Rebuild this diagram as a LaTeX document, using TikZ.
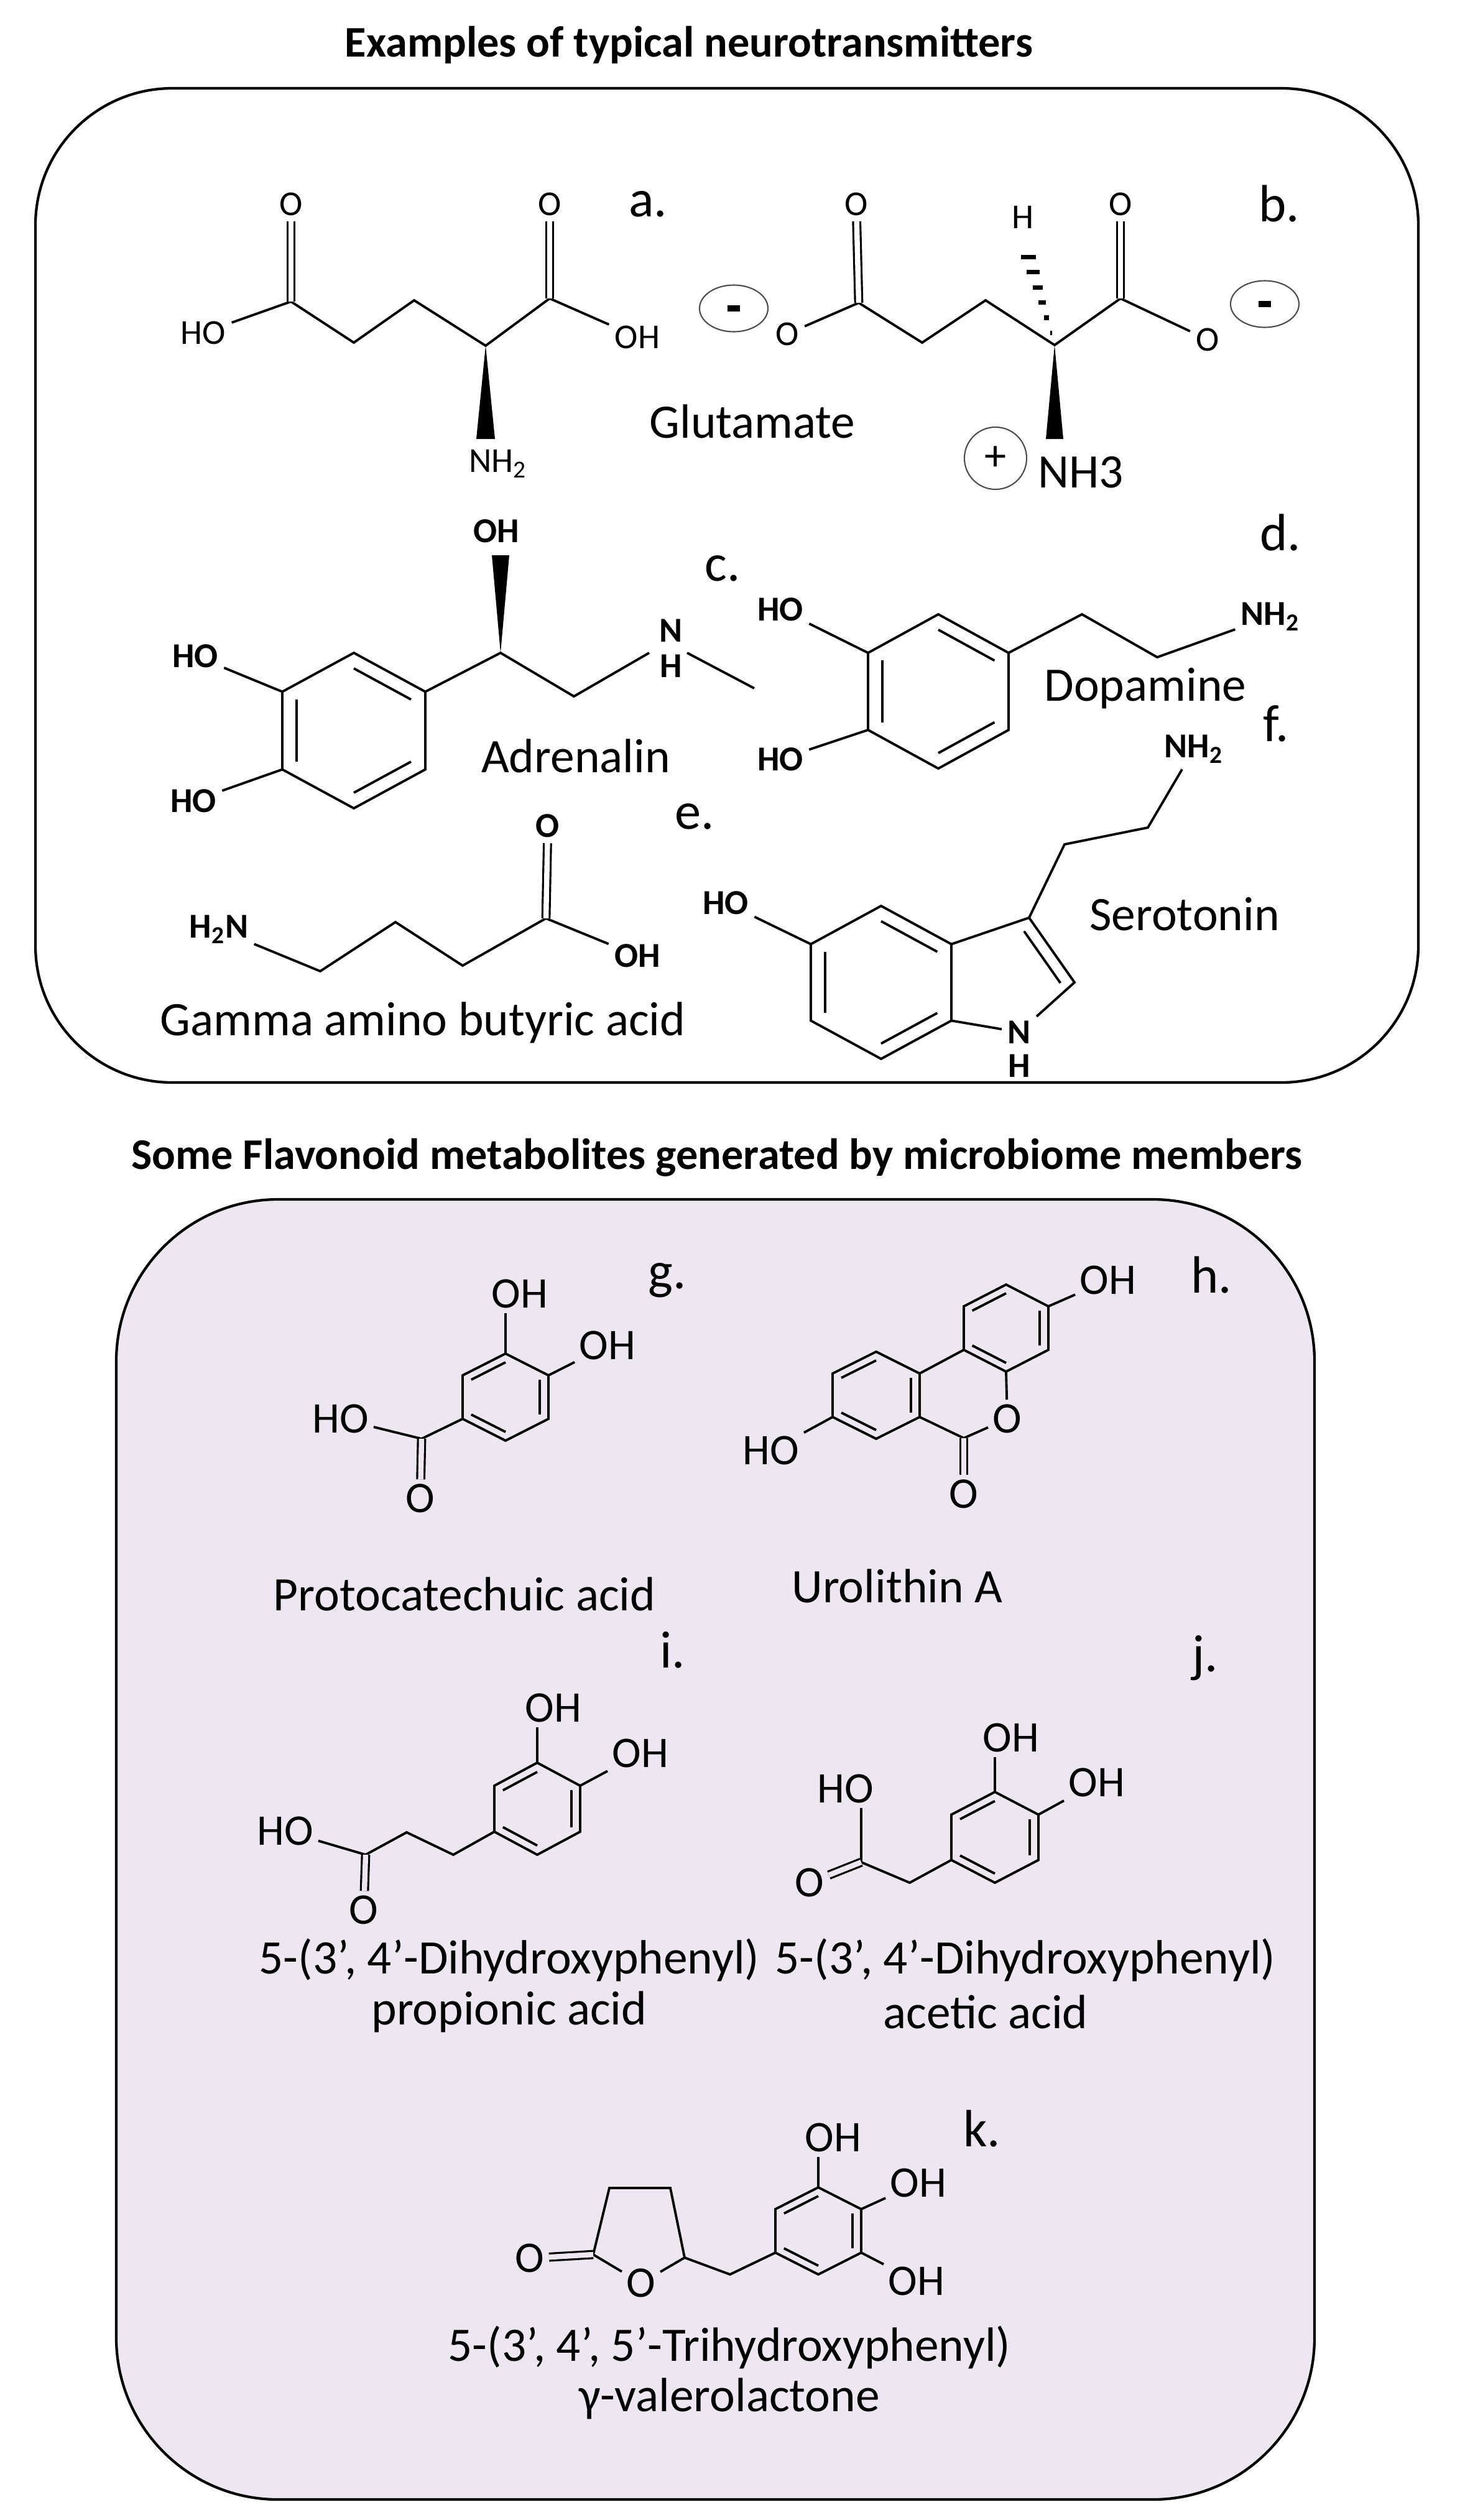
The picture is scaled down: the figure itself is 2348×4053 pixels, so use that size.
\documentclass[tikz,border=0pt]{standalone}
\usepackage{fontspec}
\setmainfont{Carlito}
\usetikzlibrary{calc,shapes.geometric}

\definecolor{boxlilac}{RGB}{236,231,240}

% benzene ring: name, cx, cy, half width, radius
\newcommand\ring[5]{%
  \coordinate (#1C) at (#2,#3);
  \coordinate (#11) at (#2,{#3-#5});
  \coordinate (#12) at ({#2+#4},{#3-#5/2});
  \coordinate (#13) at ({#2+#4},{#3+#5/2});
  \coordinate (#14) at (#2,{#3+#5});
  \coordinate (#15) at ({#2-#4},{#3+#5/2});
  \coordinate (#16) at ({#2-#4},{#3-#5/2});
  \draw[bond] (#11) -- (#12) -- (#13) -- (#14) -- (#15) -- (#16) -- cycle;}
% inner line of a ring double bond
\newcommand\inb[3]{\draw[bond] ($(#1)!0.2!(#3)$) -- ($(#2)!0.2!(#3)$);}

\tikzset{
  bond/.style={line width=1.1pt},
  dbond/.style={double=white,double distance=2.4pt,line width=0.9pt},
  dbondl/.style={dbond,double=boxlilac},
  atom/.style={inner sep=2.5pt,font=\fontsize{16}{16}\selectfont},
  batom/.style={inner sep=2.5pt,font=\fontsize{16}{16}\selectfont\bfseries},
  latom/.style={inner sep=2pt,font=\fontsize{20}{20}\selectfont},
  molname/.style={font=\fontsize{22}{24}\selectfont},
  tag/.style={font=\fontsize{24}{24}\selectfont},
  paneltitle/.style={font=\fontsize{20}{24}\selectfont\bfseries},
  charge/.style={draw=black!70,line width=0.6pt,inner sep=0pt},
}

\begin{document}
\begin{tikzpicture}[x=0.01cm,y=-0.01cm]
\useasboundingbox (0,0) rectangle (2348,4053);

% panels
\node[paneltitle] (tNeuro) at (1108,72) {Examples of typical neurotransmitters};
\draw[line width=1.2pt,rounded corners=2.2cm] (57,142) rectangle (2281,1741);
\node[paneltitle] (tFlavo) at (1153,1862) {Some Flavonoid metabolites generated by microbiome members};
\draw[line width=1.2pt,fill=boxlilac,rounded corners=2.6cm] (187,1929) rectangle (2114,4020);

% a. glutamate
\coordinate (aC1) at (468,485); \coordinate (aC2) at (569,551); \coordinate (aC3) at (666,483);
\coordinate (aCa) at (781,556); \coordinate (aC5) at (884,480);
\node[atom] (aO1) at (468,328) {O};
\node[atom] (aHO) at (327,535) {HO};
\node[atom] (aO2) at (884,328) {O};
\node[atom] (aOH) at (1025,542) {OH};
\node[atom] (aN) at (801,746) {NH\textsubscript{2}};
\draw[bond] (aHO) -- (aC1) -- (aC2) -- (aC3) -- (aCa) -- (aC5) -- (aOH);
\draw[dbond] (aC1) -- (aO1); \draw[dbond] (aC5) -- (aO2);
\fill (aCa) -- (766,706) -- (796,706) -- cycle;
\node[tag] (aTag) at (1042,328) {a.};
\node[molname] (aName) at (1210,678) {Glutamate};

% b. glutamate ion
\coordinate (bC1) at (1381,487); \coordinate (bC2) at (1483,551); \coordinate (bC3) at (1585,483);
\coordinate (bCa) at (1696,555); \coordinate (bC5) at (1802,480); \coordinate (bHt) at (1648,392);
\node[atom] (bO1) at (1266,537) {O};
\node[atom] (bO2) at (1377,328) {O};
\node[atom] (bH) at (1645,349) {H};
\node[atom] (bO3) at (1802,328) {O};
\node[atom] (bO4) at (1942,546) {O};
\draw[bond] (bO1) -- (bC1) -- (bC2) -- (bC3) -- (bCa) -- (bC5) -- (bO4);
\draw[dbond] (bC1) -- (bO2); \draw[dbond] (bC5) -- (bO3);
\fill (bCa) -- (1682,706) -- (1710,706) -- cycle;
\foreach \t in {0.12,0.27,0.42,0.57,0.72,0.87}
  \draw[line width=2pt] ($(bCa)!\t!(bHt)$) ++(-14*\t,0) -- ++(28*\t,0);
\node[charge,ellipse,minimum width=1.1cm,minimum height=0.75cm] (bM1) at (1180,496) {};
\node[charge,ellipse,minimum width=1.1cm,minimum height=0.75cm] (bM2) at (2034,489) {};
\draw[line width=2.8pt] ($(bM1.center)+(-10,0)$) -- ($(bM1.center)+(10,0)$);
\draw[line width=2.8pt] ($(bM2.center)+(-10,0)$) -- ($(bM2.center)+(10,0)$);
\node[charge,circle,minimum size=1.0cm,font=\fontsize{20}{20}\selectfont] (bP) at (1601,737) {+};
\node[molname] (bN) at (1738,760) {NH3};
\node[tag] (bTag) at (2057,328) {b.};

% c. adrenalin
\ring{cR}{569}{1175}{115}{125}
\inb{cR1}{cR2}{cRC} \inb{cR5}{cR6}{cRC} \inb{cR3}{cR4}{cRC}
\coordinate (cCH) at (805,1050); \coordinate (cCH2) at (923,1120);
\coordinate (cNl) at (1044,1050); \coordinate (cNr) at (1105,1050); \coordinate (cMe) at (1213,1107);
\node[batom] (cN) at (1079,1014) {N};
\node[batom] (cNH) at (1079,1071) {H};
\node[batom] (cOH) at (798,854) {OH};
\node[batom] (cHO1) at (314,1055) {HO};
\node[batom] (cHO2) at (311,1288) {HO};
\draw[bond] (cR2) -- (cCH) -- (cCH2) -- (cNl);
\draw[bond] (cNr) -- (cMe);
\fill (cCH) -- (791,893) -- (819,893) -- cycle;
\draw[bond] (cR6) -- (cHO1); \draw[bond] (cR5) -- (cHO2);
\node[tag] (cTag) at (1162,914) {c.};
\node[molname] (cName) at (926,1216) {Adrenalin};

% d. dopamine
\ring{dR}{1509}{1112}{113}{124}
\inb{dR1}{dR2}{dRC} \inb{dR5}{dR6}{dRC} \inb{dR3}{dR4}{dRC}
\coordinate (dC1) at (1740,988); \coordinate (dC2) at (1861,1057);
\node[batom] (dN) at (2043,992) {NH\textsubscript{2}};
\node[batom] (dHO1) at (1255,980) {HO};
\node[batom] (dHO2) at (1255,1221) {HO};
\draw[bond] (dR2) -- (dC1) -- (dC2) -- (dN);
\draw[bond] (dR6) -- (dHO1); \draw[bond] (dR5) -- (dHO2);
\node[tag] (dTag) at (2059,857) {d.};
\node[molname] (dName) at (1842,1107) {Dopamine};

% e. GABA
\coordinate (eC1) at (515,1562); \coordinate (eC2) at (636,1483);
\coordinate (eC3) at (744,1553); \coordinate (eC) at (878,1477);
\node[batom] (eN) at (352,1495) {H\textsubscript{2}N};
\node[batom] (eO) at (881,1328) {O};
\node[batom] (eOH) at (1025,1537) {OH};
\draw[bond] (eN) -- (eC1) -- (eC2) -- (eC3) -- (eC) -- (eOH);
\draw[dbond] (eC) -- (eO);
\node[tag] (eTag) at (1117,1313) {e.};
\node[molname] (eName) at (680,1645) {Gamma amino butyric acid};

% f. serotonin
\ring{sR}{1417}{1580}{113}{123}
\inb{sR1}{sR2}{sRC} \inb{sR5}{sR6}{sRC} \inb{sR3}{sR4}{sRC}
\coordinate (sC3) at (1655,1476); \coordinate (sC2) at (1728,1580); \coordinate (sPc) at (1615,1585);
\coordinate (sCh1) at (1712,1358); \coordinate (sCh2) at (1846,1331);
\node[batom] (sN) at (1639,1660) {N};
\node[batom] (sH) at (1639,1714) {H};
\node[batom] (sNH2) at (1920,1205) {NH\textsubscript{2}};
\node[batom] (sHO) at (1167,1452) {HO};
\draw[bond] (sR2) -- (sC3) -- (sC2) -- (sN);
\draw[bond] (sR3) -- (sN);
\inb{sC3}{sC2}{sPc}
\draw[bond] (sC3) -- (sCh1) -- (sCh2) -- (sNH2);
\draw[bond] (sR6) -- (sHO);
\node[tag] (fTag) at (2052,1164) {f.};
\node[molname] (sName) at (1905,1470) {Serotonin};

% g. protocatechuic acid
\ring{gR}{813}{2247}{69}{70}
\inb{gR1}{gR6}{gRC} \inb{gR2}{gR3}{gRC} \inb{gR4}{gR5}{gRC}
\coordinate (gC) at (678,2314);
\node[latom] (gOH1) at (836,2081) {OH};
\node[latom] (gOH2) at (977,2164) {OH};
\node[latom] (gHO) at (548,2282) {HO};
\node[latom] (gO) at (676,2410) {O};
\draw[bond] (gR1) -- (gR1 |- gOH1.south);
\draw[bond] (gR2) -- (gOH2);
\draw[bond] (gR5) -- (gC) -- (gHO);
\draw[dbondl] (gC) -- (gO);
\node[tag] (gTag) at (1073,2059) {g.};
\node[molname] (gName) at (747,2564) {Protocatechuic acid};

% h. urolithin A
\ring{hA}{1409}{2244}{70}{70}
\ring{hB}{1618}{2136}{68}{70}
\inb{hA1}{hA6}{hAC} \inb{hA2}{hA3}{hAC} \inb{hA4}{hA5}{hAC}
\inb{hB1}{hB6}{hBC} \inb{hB2}{hB3}{hBC} \inb{hB4}{hB5}{hBC}
\coordinate (hC) at (1550,2313);
\node[latom] (hO) at (1620,2282) {O};
\node[latom] (hO2) at (1550,2403) {O};
\node[latom] (hHO) at (1240,2333) {HO};
\node[latom] (hOH) at (1782,2059) {OH};
\draw[bond] (hA2) -- (hB5);
\draw[bond] (hB4) -- (hO) -- (hC) -- (hA3);
\draw[dbondl] (hC) -- (hO2);
\draw[bond] (hA5) -- (hHO); \draw[bond] (hB2) -- (hOH);
\node[tag] (hTag) at (1948,2050) {h.};
\node[molname] (hName) at (1443,2551) {Urolithin A};

% i. dihydroxyphenyl propionic acid
\ring{iR}{864}{2909}{69}{74}
\inb{iR1}{iR6}{iRC} \inb{iR2}{iR3}{iRC} \inb{iR4}{iR5}{iRC}
\coordinate (iC1) at (729,2983); \coordinate (iC2) at (654,2947); \coordinate (iC) at (588,2983);
\node[latom] (iOH1) at (890,2747) {OH};
\node[latom] (iOH2) at (1030,2820) {OH};
\node[latom] (iHO) at (459,2945) {HO};
\node[latom] (iO) at (585,3072) {O};
\draw[bond] (iR1) -- (iR1 |- iOH1.south);
\draw[bond] (iR2) -- (iOH2);
\draw[bond] (iR5) -- (iC1) -- (iC2) -- (iC) -- (iHO);
\draw[dbondl] (iC) -- (iO);
\node[tag] (iTag) at (1082,2654) {i.};
\node[molname] (iName1) at (819,3152) {5-(3’, 4’-Dihydroxyphenyl)};
\node[molname] (iName2) at (819,3236) {propionic acid};

% j. dihydroxyphenyl acetic acid
\ring{jR}{1600}{2955}{70}{73}
\inb{jR1}{jR6}{jRC} \inb{jR2}{jR3}{jRC} \inb{jR4}{jR5}{jRC}
\coordinate (jCH2) at (1463,3028); \coordinate (jC) at (1385,2995);
\node[latom] (jOH1) at (1626,2795) {OH};
\node[latom] (jOH2) at (1764,2867) {OH};
\node[latom] (jHO) at (1360,2877) {HO};
\node[latom] (jO) at (1302,3028) {O};
\draw[bond] (jR1) -- (jR1 |- jOH1.south);
\draw[bond] (jR2) -- (jOH2);
\draw[bond] (jR5) -- (jCH2) -- (jC) -- (jC |- jHO.south);
\draw[dbondl] (jC) -- (jO);
\node[tag] (jTag) at (1938,2667) {j.};
\node[molname] (jName1) at (1649,3152) {5-(3’, 4’-Dihydroxyphenyl)};
\node[molname] (jName2) at (1585,3236) {acetic acid};

% k. trihydroxyphenyl valerolactone
\ring{kR}{1316}{3588}{69}{70}
\inb{kR1}{kR6}{kRC} \inb{kR2}{kR3}{kRC} \inb{kR4}{kR5}{kRC}
\coordinate (kCo) at (954,3626); \coordinate (kTl) at (980,3519); \coordinate (kTr) at (1078,3519);
\coordinate (kC5) at (1101,3631); \coordinate (kCH2) at (1174,3658);
\node[latom] (kO) at (1031,3672) {O};
\node[latom] (kOx) at (852,3632) {O};
\node[latom] (kOH1) at (1340,3438) {OH};
\node[latom] (kOH2) at (1477,3511) {OH};
\node[latom] (kOH3) at (1474,3669) {OH};
\draw[bond] (kO) -- (kCo) -- (kTl) -- (kTr) -- (kC5) -- (kO);
\draw[bond] (kC5) -- (kCH2) -- (kR5);
\draw[dbondl] (kCo) -- (kOx);
\draw[bond] (kR1) -- (kR1 |- kOH1.south);
\draw[bond] (kR2) -- (kOH2); \draw[bond] (kR3) -- (kOH3);
\node[tag] (kTag) at (1579,3423) {k.};
\node[molname] (kName1) at (1173,3775) {5-(3’, 4’, 5’-Trihydroxyphenyl)};
\node[molname] (kName2) at (1173,3858) {γ-valerolactone};
\end{tikzpicture}
\end{document}
